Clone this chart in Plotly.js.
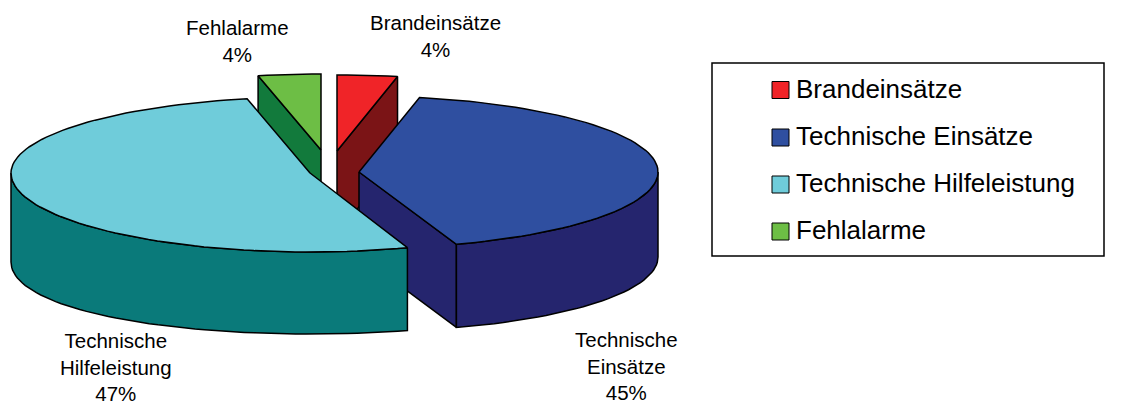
<!DOCTYPE html>
<html>
<head>
<meta charset="utf-8">
<script src="https://cdn.plot.ly/plotly-3.0.1.min.js"></script>
<style>html,body{margin:0;padding:0;background:#fff}#chart{width:1133px;height:405px}</style>
</head>
<body>
<div id="chart"></div>
<script>
// Data
const categories = ['Brandeinsätze', 'Technische Einsätze', 'Technische Hilfeleistung', 'Fehlalarme'];
const shares = [4, 45, 47, 4];
const topColors = ['#f02428', '#2f4fa0', '#6fccda', '#6dbe45'];
const wallColors = ['#7b1416', '#25256e', '#0a7a7a', '#127a3c'];

// 3D pie projection (pixel-like coordinates on hidden axes)
const centers = [[337, 151], [359, 172], [310, 173], [321, 150]];
const nearRY = [76, 76.5, 79, 76];
const depths = [83, 83, 82, 83];
const bulge = [0, 2, 7, 0];
const RX = 299, RY = 76, INK = '#000', LW = 1.5;
const rad = d => d * Math.PI / 180;
const warp = d => d - 14.8 * (1 - Math.cos(rad(d))) / 2 - 10 * Math.sin(rad(d));
function rim(i, d, lower) {
  const c = centers[i], co = Math.cos(rad(d)), si = Math.sin(rad(d));
  const ry = co < 0 ? nearRY[i] : RY;
  const drop = lower ? depths[i] + bulge[i] * si * si : 0;
  return [c[0] + RX * si, c[1] - ry * co + drop];
}
function arc(i, a, b, lower) {
  const pts = [];
  const n = Math.max(2, Math.ceil(Math.abs(b - a) / 2));
  for (let k = 0; k <= n; k++) pts.push(rim(i, a + (b - a) * k / n, lower));
  return pts;
}
function poly(pts, color) {
  return {
    type: 'scatter', mode: 'lines', fill: 'toself', fillcolor: color,
    x: pts.map(p => p[0]).concat(pts[0][0]),
    y: pts.map(p => p[1]).concat(pts[0][1]),
    line: { color: INK, width: LW, shape: 'linear' },
    hoverinfo: 'skip', showlegend: false
  };
}
function face(i, d, color) {
  const c = centers[i], r = rim(i, d);
  return poly([c, r, [r[0], r[1] + depths[i]], [c[0], c[1] + depths[i]]], color);
}

const total = shares.reduce((a, b) => a + b, 0);
let cum = 0;
const slices = shares.map((v, i) => {
  const s = { i, start: warp(cum / total * 360) };
  cum += v;
  s.end = warp(cum / total * 360);
  return s;
});

const traces = [];
// exploded small slices first, then the big ones
[0, 3, 1, 2].forEach(i => {
  const s = slices[i], c = centers[i];
  if (s.start > 180 && s.start < 360) traces.push(face(i, s.start, wallColors[i]));
  if (s.end > 0 && s.end < 180) traces.push(face(i, s.end, wallColors[i]));
  const a = Math.max(s.start, 90), b = Math.min(s.end, 270);
  if (b > a) {
    traces.push(poly(arc(i, a, b).concat(arc(i, b, a, true)), wallColors[i]));
  }
  traces.push(poly([c].concat(arc(i, s.start, s.end)), topColors[i]));
});

// Legend
const legendSwatchX = 780.5, legendTextX = 796, legendRows = [90, 137.5, 184.5, 231.5];
traces.push({
  type: 'scatter', mode: 'markers',
  x: categories.map(() => legendSwatchX), y: legendRows,
  marker: { symbol: 'square', size: 17, color: topColors, line: { color: '#000', width: 1 } },
  hoverinfo: 'skip', showlegend: false, cliponaxis: false
});
traces.push({
  type: 'scatter', mode: 'text',
  x: categories.map(() => legendTextX), y: legendRows.map(v => v + 1),
  text: categories, textposition: 'middle right',
  textfont: { family: 'Liberation Sans, Arial, sans-serif', size: 26, color: '#000' },
  hoverinfo: 'skip', showlegend: false, cliponaxis: false
});

const labelFont = { family: 'Liberation Sans, Arial, sans-serif', size: 20.5, color: '#000' };
const labelLines = [['Brandeinsätze'], ['Technische', 'Einsätze'], ['Technische', 'Hilfeleistung'], ['Fehlalarme']];
const labelPos = [[435, 36], [626, 366], [116, 367], [237, 41]];
const annotations = categories.map((c, i) => ({
  xref: 'x', yref: 'y', x: labelPos[i][0], y: labelPos[i][1],
  text: labelLines[i].concat(shares[i] + '%').join('<br>'),
  showarrow: false, align: 'center', xanchor: 'center', yanchor: 'middle', font: labelFont
}));

Plotly.newPlot('chart', traces, {
  width: 1133, height: 405,
  margin: { l: 0, r: 0, t: 0, b: 0 },
  paper_bgcolor: '#fff', plot_bgcolor: '#fff',
  showlegend: false,
  xaxis: { range: [0, 1133], visible: false, fixedrange: true },
  yaxis: { range: [405, 0], visible: false, fixedrange: true },
  annotations,
  shapes: [{ type: 'rect', xref: 'x', yref: 'y', x0: 712, x1: 1104, y0: 63, y1: 256, line: { color: '#000', width: 1.5 }, layer: 'below' }]
}, { displayModeBar: false, staticPlot: true });
</script>
</body>
</html>
